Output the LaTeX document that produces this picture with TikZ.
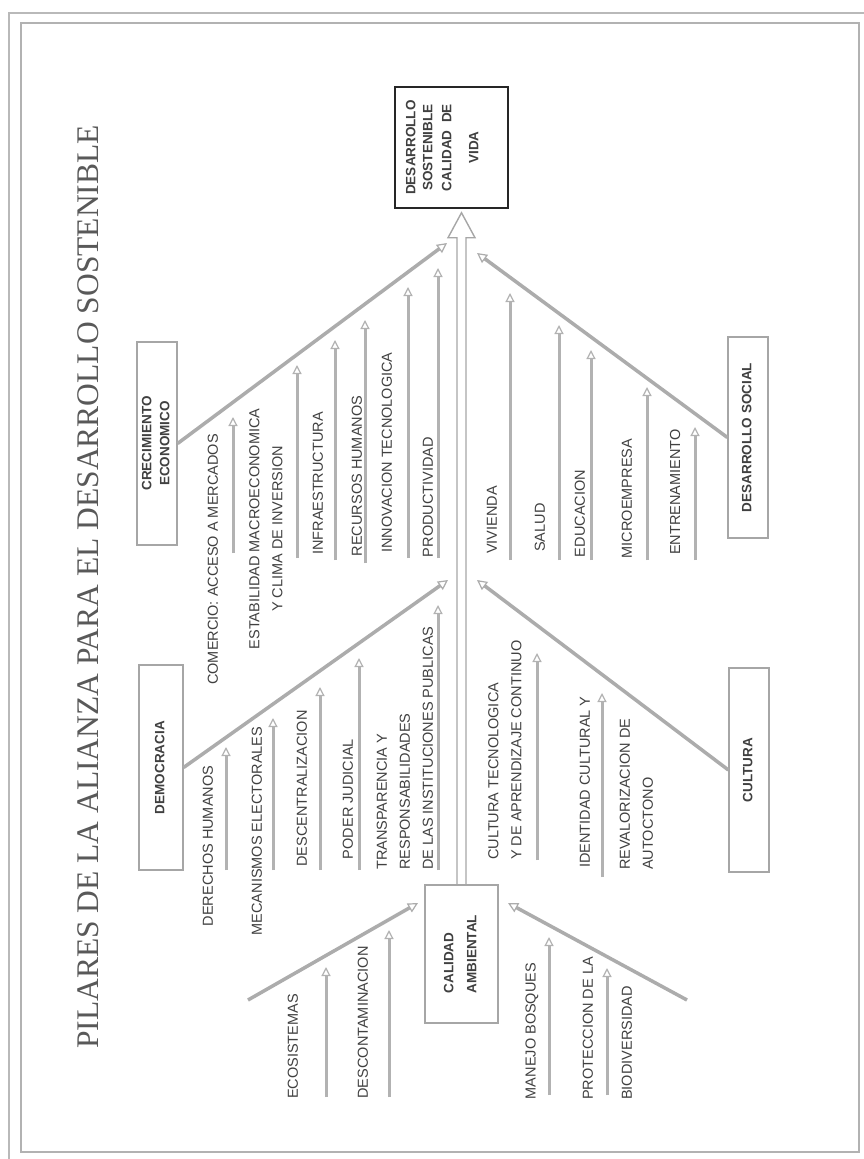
\documentclass[tikz,border=0pt]{standalone}
\usepackage{fontspec}
\usepackage{graphicx}
\setmainfont{Liberation Sans}
\newfontfamily\titlefont{Liberation Serif}
\usetikzlibrary{arrows.meta,calc}

\tikzset{
  pilar/.style={draw=gray!70, line width=1.2pt, inner sep=0pt, text=black!75,
    font=\bfseries\fontsize{13.5}{17}\selectfont},
  causa/.style={rotate=90, inner sep=0pt, text=black!75,
    font=\fontsize{14.5}{23}\selectfont},
  rama/.style={draw=gray!65, line width=3.5pt,
    -{Triangle[open, width=10pt, length=10pt, line width=1.2pt]}},
  flecha/.style={draw=gray!60, line width=3pt,
    -{Triangle[open, width=9pt, length=9pt, line width=1.2pt]}},
  espina/.style={draw=gray!70, line width=1.4pt, line join=miter},
}
\newcommand{\girado}[2][c]{\rotatebox{90}{\begin{tabular}{@{}#1@{}}#2\end{tabular}}}

\begin{document}
\begin{tikzpicture}[x=1pt, y=-1pt]
    \useasboundingbox (0,0) rectangle (864,1159);
    \fill[white] (0,0) rectangle (864,1159);
    \draw[gray!55, line width=1.5pt] (9,1159) -- (9,13) -- (864,13);
    \draw[gray!60, line width=1.5pt] (21,23) rectangle (859,1152);

    \node[rotate=90, text=black!65, font=\titlefont\fontsize{31.5}{36}\selectfont] (titulo) at (88.5,587)
        {PILARES DE LA ALIANZA PARA EL DESARROLLO SOSTENIBLE};

    \node[pilar, draw=black!85, line width=1.5pt, minimum width=113pt, minimum height=121pt] (meta) at (451.5,147.5)
        {\girado{DESARROLLO\\SOSTENIBLE\\[2pt]CALIDAD\ \ DE\\[10pt]VIDA}\hspace*{16pt}};
    \node[pilar, minimum width=40pt, minimum height=203pt] (crec) at (157,443.5) {\girado{CRECIMIENTO\\[1pt]ECONOMICO}};
    \node[pilar, minimum width=44pt, minimum height=205pt] (democ) at (161,767.5) {\girado{DEMOCRACIA}};
    \node[pilar, minimum width=40pt, minimum height=201pt] (social) at (748,437.5) {\girado{DESARROLLO SOCIAL}};
    \node[pilar, minimum width=40pt, minimum height=204pt] (cultura) at (749,770) {\girado{CULTURA}};
    \node[pilar, minimum width=73pt, minimum height=138pt] (calidad) at (461.5,954) {\girado[l]{CALIDAD\\[6pt]AMBIENTAL}};

    \coordinate (punta) at ($(calidad.north |- meta.south)+(0,4)$);
    \draw[espina] ($(calidad.north)+(-4.5,0)$) -- ($(punta)+(-4.5,25)$) -- ($(punta)+(-13.5,25)$) -- (punta)
        -- ($(punta)+(13.5,25)$) -- ($(punta)+(4.5,25)$) -- ($(calidad.north)+(4.5,0)$);

    \coordinate (crec-p) at (447,243);
    \coordinate (democ-p) at (448,580);
    \coordinate (social-p) at (477,253);
    \coordinate (cultura-p) at (477,580);
    \coordinate (amb1-a) at (248,1000); \coordinate (amb1-p) at (418,903);
    \coordinate (amb2-a) at (687,1000); \coordinate (amb2-p) at (508,903);
    \draw[rama] (crec.east) -- (crec-p);
    \draw[rama] (democ.east) -- (democ-p);
    \draw[rama] (social.west) -- (social-p);
    \draw[rama] (cultura.west) -- (cultura-p);
    \draw[rama] (amb1-a) -- (amb1-p);
    \draw[rama] (amb2-a) -- (amb2-p);

    \node[causa] (comercio) at (213,559.5) {COMERCIO: ACCESO A MERCADOS};
    \node[causa, align=center] (estabilidad) at (266,529) {ESTABILIDAD MACROECONOMICA\\Y CLIMA DE INVERSION};
    \node[causa] (infra) at (318,483.5) {INFRAESTRUCTURA};
    \node[causa] (recursos) at (357,476) {RECURSOS HUMANOS};
    \node[causa] (innovacion) at (387,452.5) {INNOVACION TECNOLOGICA};
    \node[causa] (productividad) at (428,497) {PRODUCTIVIDAD};
    \coordinate (e1a) at (233,553); \coordinate (e1b) at (233,417); \draw[flecha] (e1a) -- (e1b);
    \coordinate (e2a) at (297,558); \coordinate (e2b) at (297,365); \draw[flecha] (e2a) -- (e2b);
    \coordinate (e3a) at (335,560); \coordinate (e3b) at (335,340); \draw[flecha] (e3a) -- (e3b);
    \coordinate (e4a) at (365,563); \coordinate (e4b) at (365,320); \draw[flecha] (e4a) -- (e4b);
    \coordinate (e5a) at (408,558); \coordinate (e5b) at (408,287); \draw[flecha] (e5a) -- (e5b);
    \coordinate (e6a) at (438,558); \coordinate (e6b) at (438,268); \draw[flecha] (e6a) -- (e6b);

    \node[causa] (derechos) at (208,846) {DERECHOS HUMANOS};
    \node[causa] (mecanismos) at (257,831) {MECANISMOS ELECTORALES};
    \node[causa] (descentral) at (302,788.5) {DESCENTRALIZACION};
    \node[causa] (poder) at (348,799) {PODER JUDICIAL};
    \node[causa, align=left, anchor=west] (transparencia) at (405,870)
        {TRANSPARENCIA Y\\RESPONSABILIDADES\\DE LAS INSTITUCIONES PUBLICAS};
    \coordinate (d1a) at (226,870); \coordinate (d1b) at (226,747); \draw[flecha] (d1a) -- (d1b);
    \coordinate (d2a) at (273,870); \coordinate (d2b) at (273,718); \draw[flecha] (d2a) -- (d2b);
    \coordinate (d3a) at (320,870); \coordinate (d3b) at (320,687); \draw[flecha] (d3a) -- (d3b);
    \coordinate (d4a) at (359,870); \coordinate (d4b) at (359,658); \draw[flecha] (d4a) -- (d4b);
    \coordinate (d5a) at (438,870); \coordinate (d5b) at (438,605); \draw[flecha] (d5a) -- (d5b);

    \node[causa] (vivienda) at (492,520) {VIVIENDA};
    \node[causa] (salud) at (540,527.5) {SALUD};
    \node[causa] (educacion) at (580,513.5) {EDUCACION};
    \node[causa] (micro) at (627,498.5) {MICROEMPRESA};
    \node[causa] (entrena) at (675,492) {ENTRENAMIENTO};
    \coordinate (s1a) at (510,560); \coordinate (s1b) at (510,293); \draw[flecha] (s1a) -- (s1b);
    \coordinate (s2a) at (559,560); \coordinate (s2b) at (559,325); \draw[flecha] (s2a) -- (s2b);
    \coordinate (s3a) at (591,560); \coordinate (s3b) at (591,350); \draw[flecha] (s3a) -- (s3b);
    \coordinate (s4a) at (647,560); \coordinate (s4b) at (647,387); \draw[flecha] (s4a) -- (s4b);
    \coordinate (s5a) at (695,560); \coordinate (s5b) at (695,427); \draw[flecha] (s5a) -- (s5b);

    \node[causa, align=left, anchor=west] (cultec) at (505,860) {CULTURA TECNOLOGICA\\Y DE APRENDIZAJE CONTINUO};
    \node[causa, anchor=west] (identidad) at (585,868) {IDENTIDAD CULTURAL Y};
    \node[causa, align=left, anchor=west] (revalor) at (636.5,870) {REVALORIZACION DE\\AUTOCTONO};
    \coordinate (c1a) at (537,860); \coordinate (c1b) at (537,653); \draw[flecha] (c1a) -- (c1b);
    \coordinate (c2a) at (602,877); \coordinate (c2b) at (602,693); \draw[flecha] (c2a) -- (c2b);

    \node[causa] (ecosis) at (293,1046.5) {ECOSISTEMAS};
    \node[causa] (descont) at (363,1022.5) {DESCONTAMINACION};
    \node[causa] (manejo) at (532,1031) {MANEJO BOSQUES};
    \node[causa, anchor=west] (proteccion) at (588,1100) {PROTECCION DE LA};
    \node[causa, anchor=west] (biodiv) at (627,1100) {BIODIVERSIDAD};
    \coordinate (a1a) at (326,1097); \coordinate (a1b) at (326,967); \draw[flecha] (a1a) -- (a1b);
    \coordinate (a2a) at (389,1097); \coordinate (a2b) at (389,930); \draw[flecha] (a2a) -- (a2b);
    \coordinate (a3a) at (549,1095); \coordinate (a3b) at (549,937); \draw[flecha] (a3a) -- (a3b);
    \coordinate (a4a) at (607,1095); \coordinate (a4b) at (607,968); \draw[flecha] (a4a) -- (a4b);
\end{tikzpicture}
\end{document}
